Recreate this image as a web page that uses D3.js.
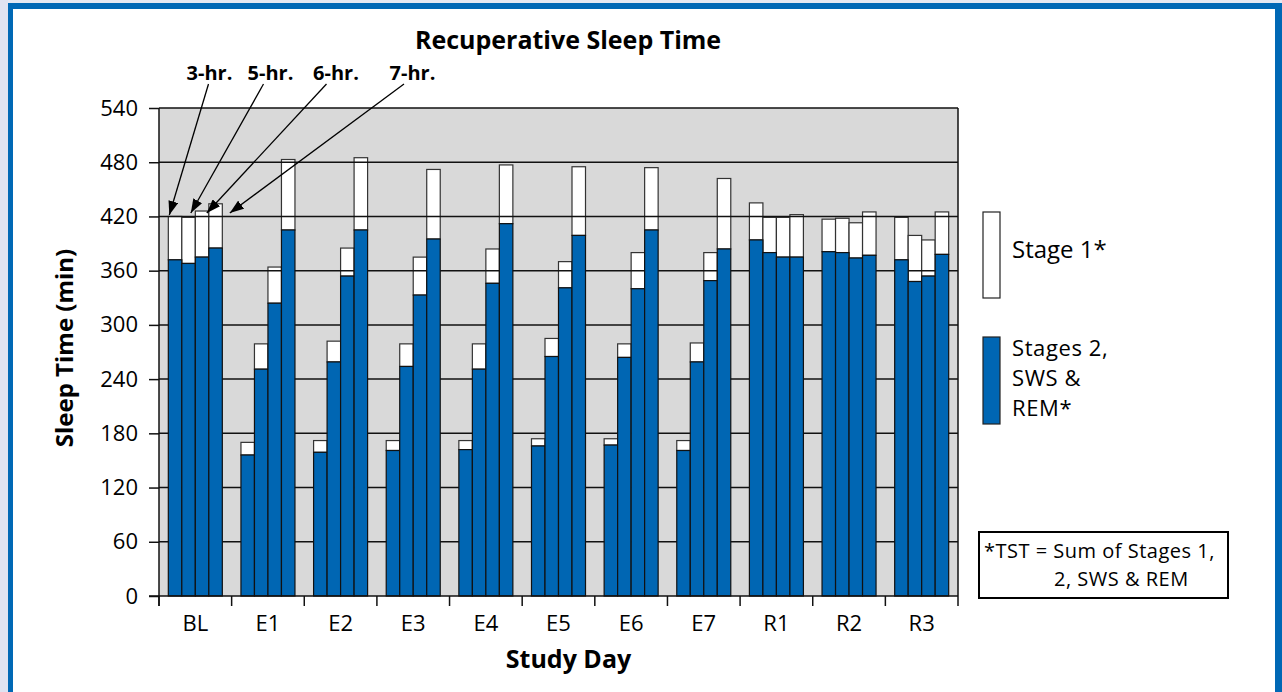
<!DOCTYPE html>
<html><head><meta charset="utf-8">
<script src="https://cdn.jsdelivr.net/npm/d3@7/dist/d3.min.js"></script>
<style>
html,body{margin:0;padding:0;background:#fff;}
svg{display:block;font-family:"Open Sans","Noto Sans",sans-serif;}
</style></head><body>
<svg id="chart" width="1282" height="692"></svg>
<script>
// ---------------- DATA ----------------
const days = ["BL","E1","E2","E3","E4","E5","E6","E7","R1","R2","R3"];
const series = ["3-hr.","5-hr.","6-hr.","7-hr."];
// Stages 2, SWS & REM (min), one array per sleep-dose group
const stage2_3hr = [372,156,159,161,162,166,167,161,394,381,372];
const stage2_5hr = [368,251,259,254,251,265,264,259,380,380,348];
const stage2_6hr = [375,324,354,333,346,341,340,349,375,374,354];
const stage2_7hr = [385,405,405,395,412,399,405,384,375,377,378];
// Stage 1 (min)
const stage1_3hr = [48,14,13,11,10,8,7,11,41,36,47];
const stage1_5hr = [51,28,23,25,28,20,15,21,39,38,51];
const stage1_6hr = [51,40,31,42,38,29,40,31,44,39,40];
const stage1_7hr = [49,78,80,77,65,76,69,78,47,48,47];
const yTicks = [0,60,120,180,240,300,360,420,480,540];
const legendLabels = ["Stage 1*", ["Stages 2,","SWS &","REM*"]];
const footnoteLines = ["*TST = Sum of Stages 1,", "2, SWS & REM"];

const stage2 = [stage2_3hr, stage2_5hr, stage2_6hr, stage2_7hr];
const stage1 = [stage1_3hr, stage1_5hr, stage1_6hr, stage1_7hr];

// ---------------- LAYOUT ----------------
const L = {left:159, right:958, top:108, bottom:596};
const BLUE = "#0066b3";
const FRAME = "#0068b5";
const PLOTBG = "#d9d9d9";
const INK = "#111";

const svg = d3.select("#chart");

// page frame
svg.append("rect").attr("x",0).attr("y",0).attr("width",1282).attr("height",692).attr("fill","#fff");
svg.append("rect").attr("x",0).attr("y",0).attr("width",8).attr("height",692).attr("fill","#dfe3f1");
svg.append("rect").attr("x",8).attr("y",0).attr("width",1274).attr("height",3).attr("fill","#e4e8f2");
svg.append("rect").attr("x",8).attr("y",3).attr("width",1274).attr("height",6).attr("fill",FRAME);
svg.append("rect").attr("x",8).attr("y",3).attr("width",5).attr("height",689).attr("fill",FRAME);
svg.append("rect").attr("x",1275).attr("y",3).attr("width",7).attr("height",689).attr("fill",FRAME);

// scales
const x = d3.scaleBand().domain(days).range([L.left, L.right]).paddingInner(0).paddingOuter(0);
const bw = x.bandwidth();
const xi = d3.scaleBand().domain(series).range([0, bw]).paddingInner(0).paddingOuter(0.69);
const y = d3.scaleLinear().domain([0,540]).range([L.bottom, L.top]);

// plot background
svg.append("rect").attr("x",L.left).attr("y",L.top)
  .attr("width",L.right-L.left).attr("height",L.bottom-L.top).attr("fill",PLOTBG);

// flattened records
const recs = [];
days.forEach((d,di)=>{
  series.forEach((s,si)=>{
    recs.push({day:d, s:s, v2:stage2[si][di], v1:stage1[si][di]});
  });
});

// stage 1 (white) segments - below gridlines
svg.append("g").selectAll("rect").data(recs).join("rect")
  .attr("x", r=>x(r.day)+xi(r.s))
  .attr("width", xi.bandwidth())
  .attr("y", r=>y(r.v2+r.v1))
  .attr("height", r=>y(r.v2)-y(r.v2+r.v1))
  .attr("fill","#fff").attr("stroke","#333").attr("stroke-width",1.2);

// gridlines
svg.append("g").selectAll("line").data(yTicks.filter(t=>t>0)).join("line")
  .attr("x1",L.left).attr("x2",L.right)
  .attr("y1",t=>y(t)).attr("y2",t=>y(t))
  .attr("stroke",INK).attr("stroke-width",1.5);

// stage 2 (blue) segments
svg.append("g").selectAll("rect").data(recs).join("rect")
  .attr("x", r=>x(r.day)+xi(r.s))
  .attr("width", xi.bandwidth())
  .attr("y", r=>y(r.v2))
  .attr("height", r=>y(0)-y(r.v2))
  .attr("fill",BLUE).attr("stroke","#111").attr("stroke-width",1.2);

// plot right border
svg.append("line").attr("x1",L.right).attr("x2",L.right).attr("y1",L.top).attr("y2",L.bottom)
  .attr("stroke",INK).attr("stroke-width",1.5);

// y axis
const yAxis = d3.axisLeft(y).tickValues(yTicks).tickSize(10).tickPadding(11).tickFormat(d3.format("d"));
const gy = svg.append("g").attr("transform",`translate(${L.left},0)`).call(yAxis);
gy.select(".domain").attr("d",`M0,${L.top}V${L.bottom+10}`).attr("stroke",INK).attr("stroke-width",1.5);
gy.selectAll(".tick line").attr("stroke",INK).attr("stroke-width",1.5);
gy.selectAll(".tick text").attr("font-size",22).attr("fill","#000")
  .attr("font-family",'"Open Sans","Noto Sans",sans-serif');

// x axis
const xAxis = d3.axisBottom(x).tickSize(0).tickPadding(19);
const gx = svg.append("g").attr("transform",`translate(0,${L.bottom})`).call(xAxis);
gx.select(".domain").attr("d",`M${L.left-10},0H${L.right}`).attr("stroke",INK).attr("stroke-width",1.5);
gx.selectAll(".tick text").attr("font-size",22).attr("fill","#000")
  .attr("font-family",'"Open Sans","Noto Sans",sans-serif');
// boundary ticks
const bounds = days.map(d=>x(d)).concat([L.right]);
svg.append("g").selectAll("line").data(bounds).join("line")
  .attr("x1",b=>b).attr("x2",b=>b).attr("y1",L.bottom).attr("y2",L.bottom+10)
  .attr("stroke",INK).attr("stroke-width",1.5);

// titles
svg.append("text").attr("x",568).attr("y",49).attr("text-anchor","middle")
  .attr("font-size",25).attr("font-weight","bold").text("Recuperative Sleep Time");
svg.append("text").attr("x",(L.left+L.right)/2+10).attr("y",668).attr("text-anchor","middle")
  .attr("font-size",25).attr("font-weight","bold").text("Study Day");
svg.append("text").attr("transform",`translate(73,${(L.top+L.bottom)/2-4}) rotate(-90)`)
  .attr("text-anchor","middle").attr("font-size",24).attr("font-weight","bold").text("Sleep Time (min)");

// annotation labels + arrows pointing at the BL bars
const defs = svg.append("defs");
defs.append("marker").attr("id","ah").attr("viewBox","0 0 14 10").attr("refX",14).attr("refY",5)
  .attr("markerWidth",14).attr("markerHeight",10).attr("markerUnits","userSpaceOnUse")
  .attr("orient","auto").append("path").attr("d","M0,0L14,5L0,10Z").attr("fill","#000");
const annoLabelX = [209.5, 270.5, 336, 412.5];
const annoStartX = [208.5, 263.5, 326.5, 404];
const annoTipOffset = [1, 9, 11.5, 21];   // px into each BL bar
const annoTipY = [215, 213, 213, 213];
series.forEach((s,i)=>{
  svg.append("text").attr("x",annoLabelX[i]).attr("y",80).attr("text-anchor","middle")
    .attr("font-size",20).attr("font-weight","bold").text(s);
  svg.append("line").attr("x1",annoStartX[i]).attr("y1",84)
    .attr("x2",x("BL")+xi(s)+annoTipOffset[i]).attr("y2",annoTipY[i])
    .attr("stroke","#000").attr("stroke-width",1.3).attr("marker-end","url(#ah)");
});

// legend
svg.append("rect").attr("x",983).attr("y",212).attr("width",17).attr("height",86)
  .attr("fill","#fff").attr("stroke","#222").attr("stroke-width",1.2);
svg.append("text").attr("x",1012).attr("y",258).attr("font-size",24).text(legendLabels[0]);
svg.append("rect").attr("x",983).attr("y",337).attr("width",17).attr("height",87)
  .attr("fill",BLUE).attr("stroke","#222").attr("stroke-width",1.2);
legendLabels[1].forEach((t,i)=>{
  svg.append("text").attr("x",1012).attr("y",356+i*30).attr("font-size",22)
    .attr("letter-spacing","0.6px").text(t);
});

// footnote box
svg.append("rect").attr("x",979).attr("y",532).attr("width",249).attr("height",66)
  .attr("fill","#fff").attr("stroke","#000").attr("stroke-width",2);
svg.append("text").attr("x",984).attr("y",558).attr("font-size",20)
  .attr("letter-spacing","0.5px").text(footnoteLines[0]);
svg.append("text").attr("x",1054).attr("y",586).attr("font-size",20)
  .attr("letter-spacing","0.5px").text(footnoteLines[1]);
</script>
</body></html>
